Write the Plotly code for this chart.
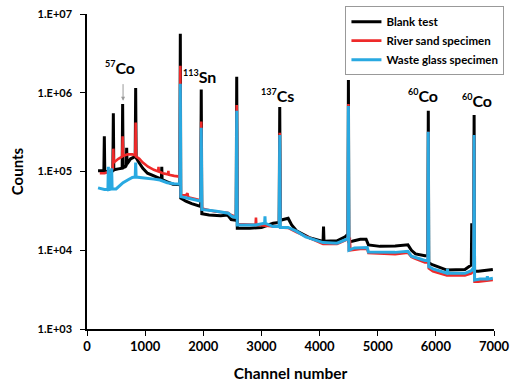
import plotly.graph_objects as go

# ---- data (channel, counts) ----
blank_ch = [190, 290, 298, 306, 400, 445, 453, 461, 540, 605, 613, 621, 660, 676, 682, 690, 750, 829, 837, 845,
            880, 920, 960, 1040, 1140, 1250, 1280, 1286, 1292, 1380, 1480, 1597, 1605, 1613, 1700, 1800, 1955,
            1965, 1975, 2100, 2300, 2420, 2480, 2565, 2575, 2585, 2800, 3000, 3200, 3305, 3315, 3325, 3460,
            3520, 3610, 3840, 4060, 4068, 4076, 4300, 4440, 4488, 4496, 4504, 4560, 4700, 4800, 4840, 5040,
            5300, 5520, 5580, 5650, 5812, 5862, 5870, 5878, 5950, 6190, 6500, 6580, 6610, 6617, 6624, 6650,
            6658, 6666, 6730, 6980]
blank_counts = [1.02e5, 1.02e5, 2.8e5, 1.0e5, 1.0e5, 1.02e5, 5.5e5, 1.05e5, 1.08e5, 1.1e5, 7.2e5, 1.12e5,
                1.15e5, 1.2e5, 2.0e5, 1.25e5, 1.45e5, 1.55e5, 1.15e6, 1.5e5, 1.35e5, 1.22e5, 1.1e5, 9.5e4,
                8.8e4, 8.2e4, 8.0e4, 1.15e5, 7.9e4, 7.4e4, 6.9e4, 6.8e4, 5.6e6, 4.6e4, 4.2e4, 3.9e4, 3.6e4,
                1.1e6, 2.9e4, 2.8e4, 2.75e4, 2.8e4, 2.45e4, 2.4e4, 1.6e6, 1.9e4, 1.9e4, 1.95e4, 2.2e4,
                2.25e4, 6.6e5, 2.4e4, 2.55e4, 2.1e4, 1.75e4, 1.43e4, 1.29e4, 2.0e4, 1.3e4, 1.32e4, 1.48e4,
                1.6e4, 1.45e6, 1.29e4, 1.3e4, 1.38e4, 1.38e4, 1.17e4, 1.12e4, 1.13e4, 1.17e4, 1.0e4, 9.0e3,
                8.5e3, 8.5e3, 5.9e5, 6.9e3, 6.5e3, 5.6e3, 5.7e3, 6.2e3, 6.5e3, 2.2e4, 6.8e3, 7.5e3, 5.2e5,
                5.4e3, 5.4e3, 5.7e3]

sand_ch = [220, 300, 400, 445, 453, 461, 540, 605, 613, 621, 700, 780, 829, 837, 845, 900, 960, 1050, 1150,
           1225, 1230, 1235, 1300, 1395, 1400, 1405, 1500, 1597, 1605, 1613, 1700, 1728, 1740, 1850, 1955,
           1965, 1975, 2200, 2420, 2480, 2565, 2575, 2585, 2900, 2906, 2912, 3200, 3305, 3315, 3325, 3460,
           3600, 3840, 4060, 4300, 4440, 4488, 4496, 4504, 4520, 4530, 4700, 4820, 4840, 5040, 5300, 5520,
           5580, 5650, 5812, 5862, 5870, 5878, 5950, 6190, 6500, 6610, 6650, 6658, 6666, 6730, 6980]
sand_counts = [9.5e4, 9.5e4, 1.0e5, 1.1e5, 1.95e5, 1.3e5, 1.45e5, 1.55e5, 2.8e5, 1.58e5, 1.65e5, 1.65e5,
               1.6e5, 4.2e5, 1.55e5, 1.45e5, 1.3e5, 1.15e5, 1.05e5, 1.0e5, 1.15e5, 1.0e5, 9.5e4, 9.2e4,
               1.02e5, 9.1e4, 8.8e4, 8.6e4, 2.2e6, 5.0e4, 5.0e4, 5.3e4, 4.7e4, 4.5e4, 4.3e4, 4.3e5, 3.4e4,
               3.1e4, 3.0e4, 2.8e4, 2.65e4, 7.0e5, 2.15e4, 2.1e4, 2.6e4, 2.1e4, 2.0e4, 2.0e4, 3.1e5, 1.95e4,
               1.92e4, 1.7e4, 1.42e4, 1.2e4, 1.2e4, 1.32e4, 1.38e4, 7.2e5, 9.8e3, 1.45e4, 1.0e4, 1.04e4,
               1.04e4, 9.2e3, 9.0e3, 8.9e3, 9.3e3, 8.2e3, 7.8e3, 7.0e3, 7.0e3, 3.2e5, 5.9e3, 5.4e3, 4.8e3,
               4.8e3, 5.1e3, 5.6e3, 2.9e5, 4.0e3, 4.0e3, 4.2e3]

glass_ch = [190, 300, 360, 367, 374, 416, 424, 432, 500, 560, 620, 700, 780, 829, 837, 845, 1000, 1150, 1255,
            1380, 1500, 1597, 1605, 1613, 1720, 1800, 1955, 1965, 1975, 2200, 2430, 2490, 2565, 2575, 2585,
            2900, 3055, 3061, 3067, 3200, 3305, 3315, 3325, 3460, 3600, 3760, 4060, 4300, 4440, 4488, 4496,
            4504, 4600, 4820, 4840, 5040, 5300, 5520, 5580, 5650, 5812, 5862, 5870, 5878, 5950, 6190, 6200,
            6210, 6500, 6610, 6650, 6658, 6666, 6760, 6880, 6886, 6892, 6980]
glass_counts = [6.2e4, 5.9e4, 5.9e4, 1.15e5, 5.9e4, 6.0e4, 1.1e5, 6.0e4, 6.0e4, 6.6e4, 7.2e4, 7.8e4, 8.4e4,
                8.5e4, 1.3e5, 8.5e4, 8.3e4, 8.0e4, 7.8e4, 7.2e4, 7.0e4, 6.9e4, 1.3e6, 4.8e4, 4.6e4, 4.45e4,
                4.2e4, 3.6e5, 3.3e4, 3.15e4, 2.95e4, 2.7e4, 2.6e4, 5.9e5, 2.1e4, 2.1e4, 2.2e4, 2.7e4, 2.2e4,
                2.0e4, 2.0e4, 2.9e5, 1.95e4, 1.95e4, 1.75e4, 1.48e4, 1.25e4, 1.23e4, 1.35e4, 1.4e4, 6.8e5,
                1.0e4, 1.07e4, 1.08e4, 9.5e3, 9.5e3, 9.4e3, 9.7e3, 8.4e3, 8.1e3, 7.4e3, 7.4e3, 3.2e5, 6.2e3,
                5.8e3, 5.1e3, 5.8e3, 5.1e3, 5.1e3, 5.5e3, 6.0e3, 2.9e5, 4.2e3, 4.3e3, 4.3e3, 4.7e3, 4.3e3,
                4.4e3]

series_names = ["Blank test", "River sand specimen", "Waste glass specimen"]
series_colors = ["#000000", "#EE2A2A", "#29A9E1"]

ytick_vals = [1e3, 1e4, 1e5, 1e6, 1e7]
ytick_text = ["1.E+03", "1.E+04", "1.E+05", "1.E+06", "1.E+07"]
xtick_vals = [0, 1000, 2000, 3000, 4000, 5000, 6000, 7000]

# nuclide labels: (superscript, symbol, channel, log10 counts)
labels = [("57", "Co", 575, 6.32), ("113", "Sn", 1930, 6.21), ("137", "Cs", 3280, 5.97),
          ("60", "Co", 5780, 5.96), ("60", "Co", 6700, 5.90)]

FONT = "Lato"

fig = go.Figure()
for ch, cnt, name, col, w in zip([blank_ch, sand_ch, glass_ch], [blank_counts, sand_counts, glass_counts],
                                 series_names, series_colors, [3, 2.6, 3]):
    fig.add_trace(go.Scatter(x=ch, y=cnt, mode="lines", name=name,
                             line=dict(color=col, width=w)))

for sup, sym, x, y in labels:
    fig.add_annotation(x=x, y=y, xref="x", yref="y", showarrow=False,
                       text=f"<sup><span style='font-size:9px'>{sup}</span></sup>{sym}",
                       font=dict(family=FONT, size=16, color="black", weight="bold"),
                       xanchor="center", yanchor="middle")

# arrow pointing to 57Co peak
fig.add_annotation(x=620, y=5.9, xref="x", yref="y", showarrow=True, text="",
                   ax=0, ay=-18, arrowcolor="#999999", arrowwidth=1, arrowhead=2, arrowsize=0.8)

fig.update_layout(
    width=514, height=385,
    margin=dict(l=87, r=20, t=14, b=56, autoexpand=False),
    plot_bgcolor="white", paper_bgcolor="white",
    font=dict(family=FONT, color="black", weight="bold"),
    showlegend=True,
    legend=dict(x=0.635, y=1.025, xanchor="left", yanchor="top",
                bordercolor="#999999", borderwidth=1, bgcolor="rgba(255,255,255,0)",
                font=dict(family=FONT, size=11.5, color="black", weight="bold"),
                tracegroupgap=0),
    xaxis=dict(range=[0, 7000], tickvals=xtick_vals, showline=True, linecolor="black", linewidth=1.5,
               ticks="outside", ticklen=5, tickcolor="black", showgrid=False, zeroline=False,
               automargin=False,
               tickfont=dict(family=FONT, size=13, weight="bold"),
               title=dict(text="Channel number", font=dict(family=FONT, size=15.5, weight="bold"), standoff=15)),
    yaxis=dict(type="log", range=[3, 7], tickvals=ytick_vals, ticktext=ytick_text, showline=True,
               linecolor="black", linewidth=1.5, ticks="outside", ticklen=5, tickcolor="black",
               showgrid=False, zeroline=False, ticklabelstandoff=6, automargin=False,
               tickfont=dict(family=FONT, size=11, weight="bold"),
               title=dict(text="Counts", font=dict(family=FONT, size=15, weight="bold"), standoff=10)),
)

fig.write_html("out.html")
